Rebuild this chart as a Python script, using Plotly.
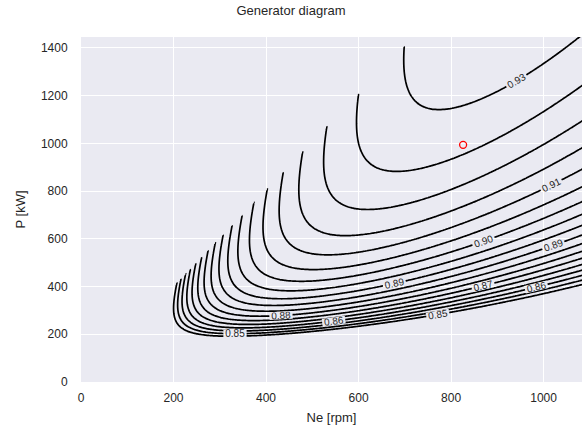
import numpy as np
import plotly.graph_objects as go

# Generator loss model [kW]:
#   const + iron/mechanical (Ne^2) + copper (torque^2, torque ~ P/Ne) + stray load (P, rising with Ne)
LOSS_CONST = 26.0        # kW
LOSS_SPEED = 3.5e-5      # kW/rpm^2
LOSS_TORQUE = 11.5       # kW/(kW/rpm)^2
LOSS_LOAD = 0.0113       # fraction of P at the reference speed
NE_REF = 800.0           # rpm, reference speed for the stray load losses
LOAD_SPEED_EXP = 0.65    # speed exponent of the stray load losses
TORQUE_LIMIT = 2.02      # kW per rpm, maximum P/Ne of the map

# Map grid
ne_grid = np.arange(150, 1201, 4.0)
p_grid = np.arange(100, 1601, 5.0)

# Contour levels of efficiency
LEVEL_START = 0.846
LEVEL_END = 0.931
LEVEL_STEP = 0.005

# Operating point
op_ne = [826]
op_p = [994]

x_ticks = [0, 200, 400, 600, 800, 1000]
y_ticks = [0, 200, 400, 600, 800, 1000, 1200, 1400]

NE, P = np.meshgrid(ne_grid, p_grid)
losses = (LOSS_CONST + LOSS_SPEED * NE**2 + LOSS_TORQUE * (P / NE) ** 2
          + LOSS_LOAD * P * (NE / NE_REF) ** LOAD_SPEED_EXP)
eta = P / (P + losses)
eta[P > TORQUE_LIMIT * NE] = np.nan

fig = go.Figure()
fig.add_trace(go.Contour(
    x=ne_grid, y=p_grid, z=eta,
    contours=dict(coloring="lines", start=LEVEL_START, end=LEVEL_END, size=LEVEL_STEP,
                  showlabels=True, labelformat=".2f",
                  labelfont=dict(size=10, color="#262626", family="Liberation Sans, Arial")),
    line=dict(color="black", width=1.7, smoothing=1),
    colorscale=[[0, "black"], [1, "black"]],
    showscale=False, connectgaps=False, hoverinfo="skip",
))
fig.add_trace(go.Scatter(
    x=op_ne, y=op_p, mode="markers",
    marker=dict(symbol="circle-open", size=7, color="red", line=dict(width=1.3)),
    showlegend=False,
))

axis_common = dict(
    showgrid=True, gridcolor="white", gridwidth=1.2, zeroline=False,
    showline=False, ticks="outside", tickcolor="rgba(0,0,0,0)",
    tickfont=dict(size=12, color="#262626"),
)
fig.update_xaxes(range=[0, 1083], tickvals=x_ticks, ticklen=5,
                 title=dict(text="Ne [rpm]", font=dict(size=13, color="#262626"), standoff=8),
                 **axis_common)
fig.update_yaxes(range=[0, 1446], tickvals=y_ticks, ticklen=10,
                 title=dict(text="P [kW]", font=dict(size=13, color="#262626"), standoff=12),
                 **axis_common)

fig.update_layout(
    width=582, height=433,
    margin=dict(l=81, r=0, t=37, b=51),
    paper_bgcolor="white", plot_bgcolor="#EAEAF2",
    font=dict(family="Liberation Sans, Arial", color="#262626"),
    title=dict(text="Generator diagram", x=0.5, xanchor="center", y=0.975, yanchor="middle",
               font=dict(size=13, color="#262626")),
    showlegend=False,
)

fig.write_html("out.html")
